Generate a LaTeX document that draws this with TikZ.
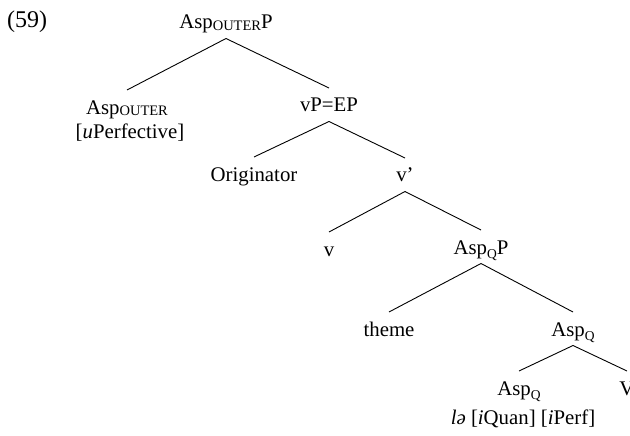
\documentclass[tikz,border=0pt]{standalone}
\usepackage{fontspec}
\setmainfont{Liberation Serif}
\newcommand{\subcap}[1]{\raisebox{-1.5pt}{\fontsize{14.5}{14.5}\selectfont #1}}
\newcommand{\subq}[1]{\raisebox{-4pt}{\fontsize{13.5}{13.5}\selectfont #1}}
\begin{document}
\begin{tikzpicture}[x=1pt,y=-1pt,
  lbl/.style={anchor=base,inner sep=0pt,font=\fontsize{20.8}{25}\selectfont},
  branch/.style={line width=0.9pt}]
\clip (0,0) rectangle (630,436);

\node[lbl,anchor=base west,font=\fontsize{24}{28}\selectfont] (ex) at (7,28) {(59)};

% tree labels, placed on their baselines
\node[lbl] (top)  at (226,29)  {Asp\subcap{OUTER}P};
\node[lbl] (aspo) at (127,114) {Asp\subcap{OUTER}};
\node[lbl] (uperf) at (130,139) {[\textit{u}Perfective]};
\node[lbl] (vp)   at (329,112) {vP=EP};
\node[lbl] (orig) at (254,181) {Originator};
\node[lbl] (vbar) at (405,182) {v’};
\node[lbl] (v)    at (329,256) {v};
\node[lbl] (aqp)  at (481,254) {Asp\subq{Q}P};
\node[lbl] (theme) at (389,336) {theme};
\node[lbl] (aqbar) at (573,336) {Asp\subq{Q}};
\node[lbl] (aq)   at (519,395) {Asp\subq{Q}};
\node[lbl] (vv)   at (627,395) {V};
\node[lbl] (le)   at (523,424) {\textit{lə} [\textit{i}Quan] [\textit{i}Perf]};

% branches
\foreach \p/\c in {top/aspo, top/vp, vp/orig, vp/vbar, vbar/v, vbar/aqp,
                   aqp/theme, aqp/aqbar, aqbar/aq, aqbar/vv}
  \draw[branch] ([yshift=-9.5pt]\p.base) -- ([yshift=24pt]\c.base);
\end{tikzpicture}
\end{document}
